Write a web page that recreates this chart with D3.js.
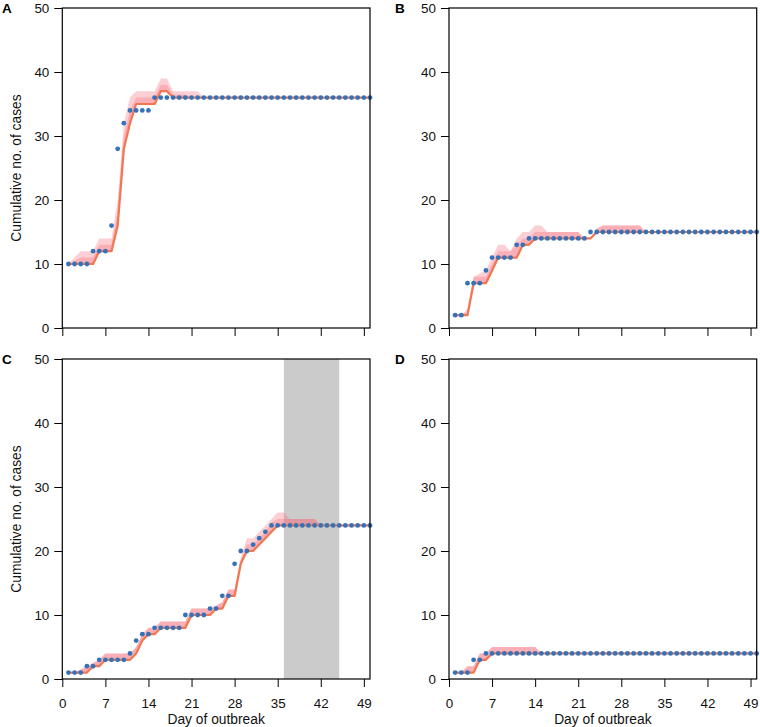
<!DOCTYPE html>
<html><head><meta charset="utf-8">
<script src="https://cdn.jsdelivr.net/npm/d3@7/dist/d3.min.js"></script>
<style>
body{margin:0;background:#fff}
svg{display:block}
text{font-family:"Liberation Sans",Arial,Helvetica,sans-serif}
</style>
</head><body>
<svg id="chart" width="760" height="727"></svg>
<script>
// ---- data (days 1..50) ----
const days = d3.range(1, 51);
const xTicks = [0, 7, 14, 21, 28, 35, 42, 49];
const yTicks = [0, 10, 20, 30, 40, 50];
const panelLabels = ["A", "B", "C", "D"];
const yTitle = "Cumulative no. of cases";
const xTitle = "Day of outbreak";
const shadedC = [36, 45];

const obsA = [10,10,10,10,12,12,12,16,28,32,34,34,34,34,36,36,36,36,36,36,36,36,36,36,36,36,36,36,36,36,36,36,36,36,36,36,36,36,36,36,36,36,36,36,36,36,36,36,36,36];
const lineA = [10,10,10,10,10,12,12,12,16,28,32,35,35,35,35,37,37,36,36,36,36,36,36,36,36,36,36,36,36,36,36,36,36,36,36,36,36,36,36,36,36,36,36,36,36,36,36,36,36,36];
const outerA = [10,11,12,12,12,14,14,14,20,32,36,37,37,37,37,39,39,37,37,37,37,37,36,36,36,36,36,36,36,36,36,36,36,36,36,36,36,36,36,36,36,36,36,36,36,36,36,36,36,36];
const innerA = [10,10.5,11,11,11,13,13,13,18,30,34,36,36,36,36,38,38,36.5,36.5,36.5,36,36,36,36,36,36,36,36,36,36,36,36,36,36,36,36,36,36,36,36,36,36,36,36,36,36,36,36,36,36];

const obsB = [2,2,7,7,7,9,11,11,11,11,13,13,14,14,14,14,14,14,14,14,14,14,15,15,15,15,15,15,15,15,15,15,15,15,15,15,15,15,15,15,15,15,15,15,15,15,15,15,15,15];
const lineB = [2,2,2,7,7,7,9,11,11,11,11,13,13,14,14,14,14,14,14,14,14,14,14,15,15,15,15,15,15,15,15,15,15,15,15,15,15,15,15,15,15,15,15,15,15,15,15,15,15,15];
const outerB = [2,2,3,8,8.5,9,11,13,13,12,14,15,15,16,16,15,15,15,15,15,15,14,14,15.5,16,16,16,16,16,16,16,15,15,15,15,15,15,15,15,15,15,15,15,15,15,15,15,15,15,15];
const innerB = [2,2,2.5,8,8,8,10,12,12,12,13,14,14,15,15,15,15,15,15,15,15,14,14,15.5,16,16,16,16,16,16,16,15,15,15,15,15,15,15,15,15,15,15,15,15,15,15,15,15,15,15];

const obsC = [1,1,1,2,2,3,3,3,3,3,4,6,7,7,8,8,8,8,8,10,10,10,10,11,11,13,13,18,20,20,21,22,23,24,24,24,24,24,24,24,24,24,24,24,24,24,24,24,24,24];
const lineC = [1,1,1,1,2,2,3,3,3,3,3,4,6,7,7,8,8,8,8,8,10,10,10,10,11,11,13,13,18,20,20,21,22,23,24,24,24,24,24,24,24,24,24,24,24,24,24,24,24,24];
const outerC = [1,1,1.5,2,2.5,3,4,4,4,4,4,5,7,8,8,9,9,9,9,9,11,11,11,11,11.5,12,14,14,19,22,22,23,24,25,26,26,25,25,25,25,25,24,24,24,24,24,24,24,24,24];
const innerC = [1,1,1.5,2,2.5,3,4,4,4,4,4,5,7,8,8,9,9,9,9,9,11,11,11,11,11.5,12,14,14,18.5,21,21,22,23,24.5,25,25,25,25,25,25,25,24,24,24,24,24,24,24,24,24];

const obsD = [1,1,1,3,3,4,4,4,4,4,4,4,4,4,4,4,4,4,4,4,4,4,4,4,4,4,4,4,4,4,4,4,4,4,4,4,4,4,4,4,4,4,4,4,4,4,4,4,4,4];
const lineD = [1,1,1,1,3,3,4,4,4,4,4,4,4,4,4,4,4,4,4,4,4,4,4,4,4,4,4,4,4,4,4,4,4,4,4,4,4,4,4,4,4,4,4,4,4,4,4,4,4,4];
const outerD = [1,1,2,2,4,4,5,5,5,5,5,5,5,5,4,4,4,4,4,4,4,4,4,4,4,4,4,4,4,4,4,4,4,4,4,4,4,4,4,4,4,4,4,4,4,4,4,4,4,4];
const innerD = [1,1,2,2,4,4,5,5,5,5,5,5,5,5,4,4,4,4,4,4,4,4,4,4,4,4,4,4,4,4,4,4,4,4,4,4,4,4,4,4,4,4,4,4,4,4,4,4,4,4];

// ---- layout ----
const W = 307.7, H = 320;
const panels = [
  {label: panelLabels[0], left: 62.3, top: 8,   obs: obsA, line: lineA, outer: outerA, inner: innerA, xLabels: false, yTitle: true,  labelX: 2},
  {label: panelLabels[1], left: 449,  top: 8,   obs: obsB, line: lineB, outer: outerB, inner: innerB, xLabels: false, yTitle: false, labelX: 395},
  {label: panelLabels[2], left: 62.3, top: 359, obs: obsC, line: lineC, outer: outerC, inner: innerC, xLabels: true,  yTitle: true,  labelX: 2, shade: shadedC},
  {label: panelLabels[3], left: 449,  top: 359, obs: obsD, line: lineD, outer: outerD, inner: innerD, xLabels: true,  yTitle: false, labelX: 395}
];

const svg = d3.select("#chart");
const x = d3.scaleLinear().domain([0, 50]).range([0, W]);
const y = d3.scaleLinear().domain([0, 50]).range([H, 0]);

panels.forEach(p => {
  const g = svg.append("g").attr("transform", `translate(${p.left},${p.top})`);
  const rows = days.map((d, i) => ({d, obs: p.obs[i], line: p.line[i], outer: p.outer[i], inner: p.inner[i]}));

  if (p.shade) {
    g.append("rect")
      .attr("x", x(p.shade[0])).attr("y", 0)
      .attr("width", x(p.shade[1]) - x(p.shade[0])).attr("height", H)
      .attr("fill", "#cbcbcb");
  }

  const outerArea = d3.area().x(r => x(r.d)).y0(r => y(r.line)).y1(r => y(r.outer));
  const innerArea = d3.area().x(r => x(r.d)).y0(r => y(r.line)).y1(r => y(r.inner));
  g.append("path").datum(rows).attr("d", outerArea).attr("fill", "rgba(246,110,125,0.33)");
  g.append("path").datum(rows).attr("d", innerArea).attr("fill", "rgba(246,110,125,0.33)");

  g.append("path").datum(rows)
    .attr("d", d3.line().x(r => x(r.d)).y(r => y(r.line)))
    .attr("fill", "none").attr("stroke", "#f2764f").attr("stroke-width", 2.2)
    .attr("stroke-linejoin", "round");

  g.selectAll("circle.obs").data(rows).join("circle")
    .attr("class", "obs")
    .attr("cx", r => x(r.d)).attr("cy", r => y(r.obs)).attr("r", 2.4)
    .attr("fill", "#3672b8");

  // axes
  const ya = g.append("g").call(d3.axisLeft(y).tickValues(yTicks).tickSize(8).tickPadding(5));
  const xa = g.append("g").attr("transform", `translate(0,${H})`)
    .call(d3.axisBottom(x).tickValues(xTicks).tickSize(8).tickPadding(11)
      .tickFormat(p.xLabels ? d3.format("d") : () => ""));
  [ya, xa].forEach(a => {
    a.select(".domain").remove();
    a.selectAll("line").attr("stroke", "#000").attr("stroke-width", 1);
    a.selectAll("text").attr("font-size", 13.4).attr("fill", "#111")
      .style("font-family", '"Liberation Sans",Arial,sans-serif');
  });

  g.append("rect").attr("x", 0).attr("y", 0).attr("width", W).attr("height", H)
    .attr("fill", "none").attr("stroke", "#000").attr("stroke-width", 1.2);

  svg.append("text").attr("x", p.labelX).attr("y", p.top + 4.8)
    .attr("font-size", 13.5).attr("font-weight", "bold").text(p.label);

  if (p.yTitle) {
    svg.append("text")
      .attr("transform", `translate(20.5,${p.top + H / 2}) rotate(-90)`)
      .attr("text-anchor", "middle").attr("font-size", 13.8).attr("fill", "#111")
      .text(yTitle);
  }
  if (p.xLabels) {
    svg.append("text").attr("x", p.left + W / 2).attr("y", p.top + H + 44.5)
      .attr("text-anchor", "middle").attr("font-size", 13.8).attr("fill", "#111")
      .text(xTitle);
  }
});
</script>
</body></html>
